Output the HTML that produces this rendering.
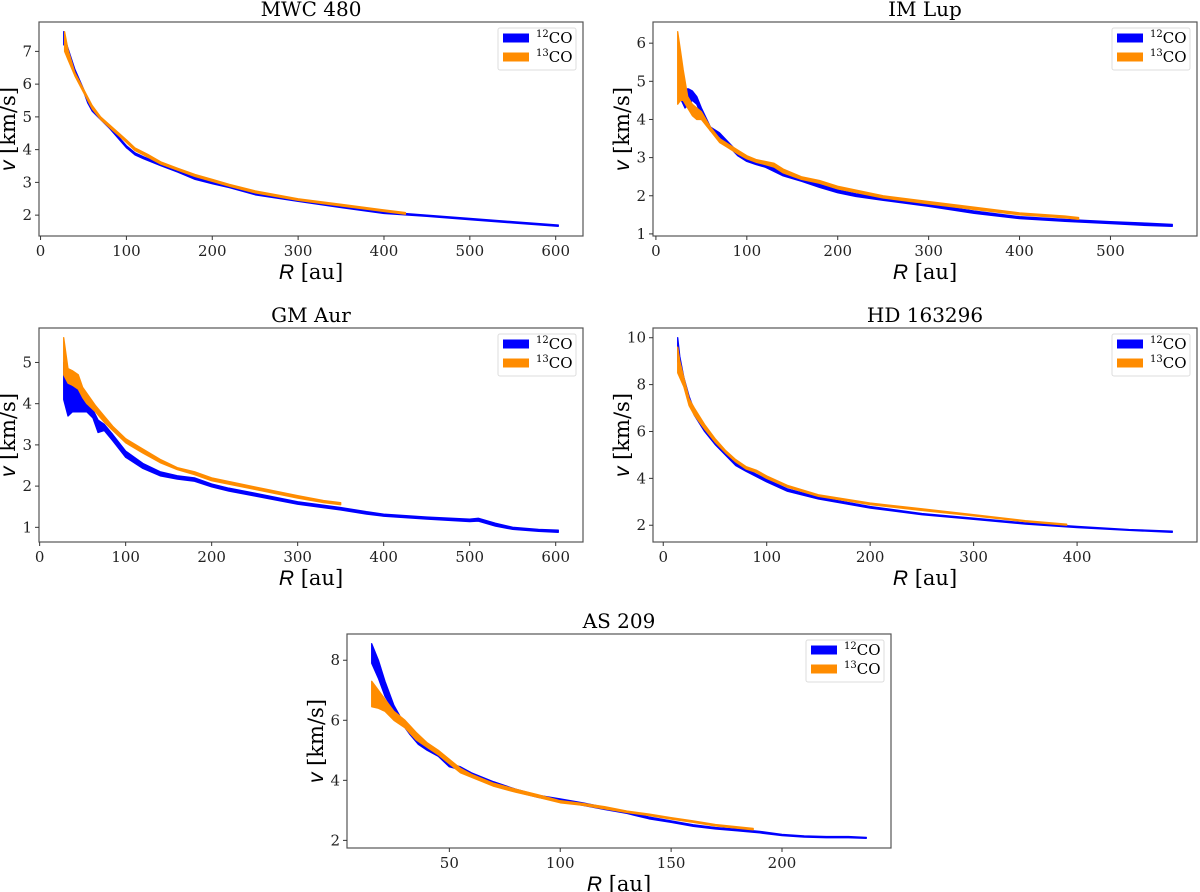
<!DOCTYPE html>
<html><head><meta charset="utf-8"><style>
body{margin:0;background:#fff;}
svg{display:block;font-family:"DejaVu Serif","Liberation Serif",serif;}
</style></head><body>
<svg id="fig" width="1200" height="892" viewBox="0 0 1200 892" xmlns="http://www.w3.org/2000/svg"></svg>
<script>
// ---- data (R in au, velocity band lo/hi in km/s) ----
const mwcTitle="MWC 480";
const mwc12R=[27,30,40,50,55,60,70,80,90,100,110,120,140,160,180,200,220,250,300,350,400,450,500,550,603];
const mwc12Hi=[7.6,7.25,6.45,5.85,5.5,5.25,4.98,4.72,4.42,4.12,3.9,3.78,3.57,3.37,3.15,3.02,2.9,2.67,2.47,2.28,2.1,2.0,1.9,1.8,1.7];
const mwc12Lo=[7.2,7.15,6.38,5.78,5.42,5.18,4.92,4.66,4.36,4.06,3.84,3.72,3.51,3.31,3.09,2.96,2.84,2.62,2.42,2.23,2.05,1.96,1.86,1.76,1.66];
const mwc13R=[28,32,40,50,60,70,85,100,110,125,140,160,180,200,220,250,300,350,400,425];
const mwc13Hi=[7.6,7.05,6.35,5.85,5.35,5.0,4.65,4.3,4.05,3.85,3.63,3.43,3.24,3.09,2.94,2.74,2.5,2.33,2.16,2.08];
const mwc13Lo=[7.0,6.75,6.25,5.75,5.25,4.92,4.57,4.22,3.97,3.77,3.56,3.37,3.18,3.03,2.88,2.68,2.45,2.28,2.11,2.03];

const imTitle="IM Lup";
const im12R=[25,28,32,36,40,45,50,60,70,80,90,100,110,120,140,160,180,200,220,250,300,350,400,450,500,540,568];
const im12Hi=[5.6,4.9,4.8,4.8,4.75,4.6,4.3,3.8,3.65,3.4,3.15,3.0,2.9,2.85,2.6,2.45,2.3,2.15,2.05,1.95,1.78,1.6,1.45,1.38,1.32,1.28,1.25];
const im12Lo=[4.8,4.5,4.3,4.4,4.5,4.4,4.1,3.7,3.55,3.3,3.05,2.9,2.82,2.75,2.52,2.38,2.22,2.08,1.98,1.88,1.72,1.54,1.4,1.33,1.27,1.22,1.2];
const im13R=[24,27,30,35,40,45,50,60,70,80,90,100,110,120,130,140,160,180,200,250,300,350,400,450,465];
const im13Hi=[6.3,5.8,5.3,4.6,4.4,4.3,4.2,3.8,3.5,3.35,3.2,3.05,2.95,2.9,2.85,2.7,2.5,2.4,2.25,2.0,1.85,1.7,1.55,1.47,1.43];
const im13Lo=[4.4,4.5,4.5,4.3,4.1,4.0,4.0,3.7,3.4,3.25,3.1,2.97,2.88,2.82,2.75,2.6,2.43,2.33,2.18,1.94,1.79,1.64,1.5,1.42,1.38];

const gmTitle="GM Aur";
const gm12R=[28,33,38,43,48,55,62,68,75,85,100,120,140,160,180,200,220,250,300,350,380,400,450,500,510,530,550,580,603];
const gm12Hi=[5.0,4.6,4.4,4.5,4.3,4.0,3.85,3.6,3.5,3.25,2.85,2.55,2.35,2.25,2.2,2.05,1.95,1.83,1.62,1.48,1.38,1.32,1.25,1.2,1.22,1.1,1.0,0.95,0.93];
const gm12Lo=[4.1,3.7,3.8,3.8,3.8,3.8,3.65,3.3,3.35,3.1,2.7,2.43,2.25,2.17,2.12,1.98,1.88,1.76,1.56,1.42,1.32,1.27,1.2,1.14,1.15,1.03,0.95,0.9,0.88];
const gm13R=[28,33,38,45,50,55,65,75,85,100,120,140,160,180,200,250,300,330,350];
const gm13Hi=[5.6,4.85,4.8,4.7,4.4,4.25,3.95,3.7,3.45,3.15,2.9,2.65,2.45,2.35,2.2,1.98,1.77,1.65,1.6];
const gm13Lo=[4.7,4.5,4.45,4.35,4.15,4.0,3.8,3.55,3.35,3.05,2.8,2.57,2.4,2.28,2.13,1.92,1.71,1.6,1.55];

const hdTitle="HD 163296";
const hd12R=[14,16,20,25,30,40,50,60,70,80,100,120,150,200,250,300,350,400,450,492];
const hd12Hi=[10.0,9.2,8.3,7.5,6.9,6.2,5.6,5.1,4.7,4.4,3.95,3.55,3.2,2.8,2.5,2.3,2.1,1.95,1.82,1.75];
const hd12Lo=[9.0,8.6,8.0,7.2,6.7,6.0,5.45,5.0,4.55,4.3,3.85,3.45,3.12,2.73,2.45,2.25,2.05,1.9,1.78,1.7];
const hd13R=[14,16,20,25,30,40,50,60,70,80,90,100,120,150,200,250,300,350,390];
const hd13Hi=[9.6,9.0,8.3,7.4,7.0,6.3,5.7,5.2,4.8,4.5,4.35,4.1,3.7,3.3,2.95,2.7,2.45,2.2,2.05];
const hd13Lo=[8.5,8.3,7.9,7.1,6.7,6.1,5.55,5.1,4.7,4.4,4.25,4.0,3.62,3.23,2.88,2.63,2.4,2.15,2.0];

const asTitle="AS 209";
const as12R=[15,18,21,25,28,32,36,40,45,50,55,60,70,80,90,100,110,120,130,140,150,160,170,180,190,200,210,220,230,238];
const as12Hi=[8.55,8.0,7.3,6.5,6.1,5.7,5.3,5.05,4.85,4.55,4.45,4.25,3.95,3.7,3.5,3.38,3.25,3.1,2.97,2.78,2.65,2.52,2.43,2.37,2.3,2.2,2.15,2.13,2.13,2.1];
const as12Lo=[7.9,7.4,6.8,6.3,5.95,5.55,5.2,5.0,4.8,4.45,4.35,4.15,3.87,3.62,3.43,3.3,3.17,3.03,2.9,2.72,2.6,2.47,2.38,2.32,2.25,2.16,2.11,2.09,2.09,2.07];
const as13R=[15,18,21,25,30,35,40,45,50,55,60,70,80,90,100,110,120,130,140,150,160,170,187];
const as13Hi=[7.3,7.0,6.7,6.3,6.0,5.6,5.25,5.0,4.7,4.4,4.2,3.9,3.7,3.52,3.32,3.23,3.12,2.98,2.88,2.76,2.65,2.53,2.4];
const as13Lo=[6.45,6.4,6.3,6.0,5.75,5.35,5.1,4.85,4.55,4.25,4.1,3.8,3.6,3.43,3.25,3.17,3.05,2.93,2.83,2.71,2.6,2.48,2.35];

const mwcXTicks=[0,100,200,300,400,500,600], mwcYTicks=[2,3,4,5,6,7];
const imXTicks=[0,100,200,300,400,500], imYTicks=[1,2,3,4,5,6];
const gmXTicks=[0,100,200,300,400,500,600], gmYTicks=[1,2,3,4,5];
const hdXTicks=[0,100,200,300,400], hdYTicks=[2,4,6,8,10];
const asXTicks=[50,100,150,200], asYTicks=[2,4,6,8];

const NS="http://www.w3.org/2000/svg";
const svg=document.getElementById('fig');
function mk(tag,attrs,parent){const e=document.createElementNS(NS,tag);for(const k in attrs)e.setAttribute(k,attrs[k]);(parent||svg).appendChild(e);return e;}

function panel(key,title,box,s12,s13,xt,yt){
  const [L,T,W,H]=box;
  const g=mk('g',{});
  
  
  const allR=s12[0].concat(s13[0]);
  const allV=s12[1].concat(s12[2],s13[1],s13[2]);
  let x0=Math.min(...allR),x1=Math.max(...allR),y0=Math.min(...allV),y1=Math.max(...allV);
  const px=(x1-x0)*0.05,py=(y1-y0)*0.05;x0-=px;x1+=px;y0-=py;y1+=py;
  const sx=v=>L+(v-x0)/(x1-x0)*W, sy=v=>T+H-(v-y0)/(y1-y0)*H;
  function band(s,color,name){
    const [R,hi,lo]=s;let d='M';
    for(let i=0;i<R.length;i++)d+=(i?'L':'')+sx(R[i]).toFixed(1)+','+sy(hi[i]).toFixed(1);
    for(let i=R.length-1;i>=0;i--)d+='L'+sx(R[i]).toFixed(1)+','+sy(lo[i]).toFixed(1);
    d+='Z';
    const p=mk('path',{d:d,fill:color,stroke:color,'stroke-width':1.3,'stroke-linejoin':'round'},g);
    
    
  }
  band(s12,'#0000ff',key+'-12co-band');
  band(s13,'#ff8c00',key+'-13co-band');
  const fr=mk('rect',{x:L,y:T,width:W,height:H,fill:'none',stroke:'#555','stroke-width':1.2},g);
  
  
  xt.forEach(v=>{const x=sx(v);mk('line',{x1:x,x2:x,y1:T+H,y2:T+H+4,stroke:'#333'},g);
    const t=mk('text',{x:x,y:T+H+20,'text-anchor':'middle','font-size':15,fill:'#222'},g);t.textContent=v;
    });
  yt.forEach(v=>{const y=sy(v);mk('line',{x1:L-4,x2:L,y1:y,y2:y,stroke:'#333'},g);
    const t=mk('text',{x:L-7,y:y+5,'text-anchor':'end','font-size':15,fill:'#222'},g);t.textContent=v;
    });
  const tt=mk('text',{x:L+W/2,y:T-6,'text-anchor':'middle','font-size':20,fill:'#000'},g);tt.textContent=title;
  
  const xl=mk('text',{x:L+W/2,y:T+H+43,'text-anchor':'middle','font-size':21,fill:'#000'},g);
  xl.innerHTML='<tspan font-style="italic" font-family="Liberation Sans, sans-serif">R</tspan> [au]';
  
  const yl=mk('text',{x:0,y:0,'text-anchor':'middle','font-size':21,fill:'#000',transform:'translate('+(L-24)+','+(T+H/2)+') rotate(-90)'},g);
  yl.innerHTML='<tspan font-style="italic" font-family="Liberation Sans, sans-serif">v</tspan> [km/s]';
  
  const lg=mk('g',{},g);
  
  const R=L+W;
  mk('rect',{x:R-85,y:T+6,width:78,height:42,rx:2,fill:'#fff',stroke:'#ddd'},lg);
  [['#0000ff','12'],['#ff8c00','13']].forEach((c,i)=>{
    const cy=T+16+i*19;
    const r=mk('rect',{x:R-80,y:cy-4.5,width:26,height:9,fill:c[0]},lg);
    
    const t=mk('text',{x:R-47,y:cy+5,'font-size':15,fill:'#000'},lg);
    t.innerHTML='<tspan font-size="10" dy="-6">'+c[1]+'</tspan><tspan dy="6">CO</tspan>';
    
  });
}
panel('mwc480',mwcTitle,[39,22,544,214],[mwc12R,mwc12Hi,mwc12Lo],[mwc13R,mwc13Hi,mwc13Lo],mwcXTicks,mwcYTicks);
panel('imlup',imTitle,[653,22,544,214],[im12R,im12Hi,im12Lo],[im13R,im13Hi,im13Lo],imXTicks,imYTicks);
panel('gmaur',gmTitle,[39,328,544,214],[gm12R,gm12Hi,gm12Lo],[gm13R,gm13Hi,gm13Lo],gmXTicks,gmYTicks);
panel('hd163296',hdTitle,[653,328,544,214],[hd12R,hd12Hi,hd12Lo],[hd13R,hd13Hi,hd13Lo],hdXTicks,hdYTicks);
panel('as209',asTitle,[347,634,544,214],[as12R,as12Hi,as12Lo],[as13R,as13Hi,as13Lo],asXTicks,asYTicks);
</script>
</body></html>
